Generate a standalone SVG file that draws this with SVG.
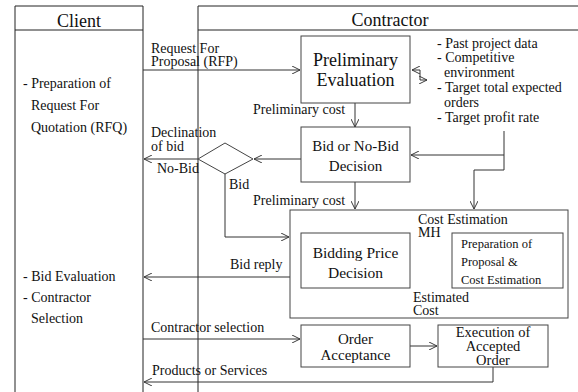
<svg xmlns="http://www.w3.org/2000/svg" width="578" height="392" viewBox="0 0 578 392">
<defs>
<marker id="ah" viewBox="0 0 10 10" refX="10" refY="5" markerWidth="8" markerHeight="8" markerUnits="userSpaceOnUse" orient="auto">
<path d="M0,0 L10,5 L0,10" fill="none" stroke="#333" stroke-width="1.2"/>
</marker>
<style>
.box{fill:#fff;stroke:#444;stroke-width:1}
.lane{fill:none;stroke:#222;stroke-width:1}
.c{fill:none;stroke:#333;stroke-width:1;marker-end:url(#ah)}
</style>
</defs>
<rect width="578" height="392" fill="#fff"/>
<g id="lanes" fill="#111">
<path class="lane" d="M15,392 V6 H143 V392 M15,30 H143"/>
<path class="lane" d="M198,392 V6 H578 M198,30 H578"/>
<text font-family="Liberation Serif" font-size="18" x="79" y="27" text-anchor="middle">Client</text>
<text font-family="Liberation Serif" font-size="18" x="390" y="26" text-anchor="middle">Contractor</text>
</g>
<g id="client-notes" fill="#111">
<text font-family="Liberation Serif" font-size="14" x="23" y="88">- Preparation of</text>
<text font-family="Liberation Serif" font-size="14" x="31" y="110">Request For</text>
<text font-family="Liberation Serif" font-size="14" x="31" y="132">Quotation (RFQ)</text>
<text font-family="Liberation Serif" font-size="14" x="23" y="281">- Bid Evaluation</text>
<text font-family="Liberation Serif" font-size="14" x="23" y="302">- Contractor</text>
<text font-family="Liberation Serif" font-size="14" x="31" y="323">Selection</text>
</g>
<g id="connectors">
<path class="c" d="M143,70 H300"/>
<path class="c" d="M420,70 H412"/>
<path class="c" d="M420,70 V80 H427"/>
<path class="c" d="M355,103 V127"/>
<path class="c" d="M504,131 V155 H411"/>
<path class="c" d="M504,155 V170 H474 V209"/>
<path class="c" d="M301,159 H254"/>
<path class="c" d="M198,159 H144"/>
<path class="c" d="M225,173 V237 H289"/>
<path class="c" d="M355,182 V209"/>
<path class="c" d="M410,251 H451"/>
<path class="c" d="M452,269 H411"/>
<path class="c" d="M290,277 H144"/>
<path class="c" d="M143,339 H300"/>
<path class="c" d="M410,346 H437"/>
<path class="c" d="M493,367 V382 H144"/>
</g>
<g id="labels" fill="#111">
<text font-family="Liberation Serif" font-size="14" x="151" y="52.5">Request For</text>
<text font-family="Liberation Serif" font-size="14" x="151" y="66">Proposal  (RFP)</text>
<text font-family="Liberation Serif" font-size="14" x="253" y="114">Preliminary cost</text>
<text font-family="Liberation Serif" font-size="14" x="151" y="137">Declination</text>
<text font-family="Liberation Serif" font-size="14" x="151" y="151">of bid</text>
<text font-family="Liberation Serif" font-size="14" x="157" y="173">No-Bid</text>
<text font-family="Liberation Serif" font-size="14" x="229" y="189">Bid</text>
<text font-family="Liberation Serif" font-size="14" x="253" y="205">Preliminary cost</text>
<text font-family="Liberation Serif" font-size="14" x="230" y="269">Bid reply</text>
<text font-family="Liberation Serif" font-size="14" x="151" y="332">Contractor selection</text>
<text font-family="Liberation Serif" font-size="14" x="152" y="375">Products or Services</text>
</g>
<g id="factors" fill="#111">
<text font-family="Liberation Serif" font-size="14" x="437" y="48">- Past project data</text>
<text font-family="Liberation Serif" font-size="14" x="437" y="62">- Competitive</text>
<text font-family="Liberation Serif" font-size="14" x="444" y="77">environment</text>
<text font-family="Liberation Serif" font-size="14" x="437" y="92">- Target total expected</text>
<text font-family="Liberation Serif" font-size="14" x="444" y="107">orders</text>
<text font-family="Liberation Serif" font-size="14" x="437" y="122">- Target profit rate</text>
</g>
<g id="preliminary-evaluation" fill="#111">
<rect class="box" x="301" y="36" width="109" height="67"/>
<text font-family="Liberation Serif" font-size="18" x="355.5" y="66" text-anchor="middle">Preliminary</text>
<text font-family="Liberation Serif" font-size="18" x="355.5" y="86" text-anchor="middle">Evaluation</text>
</g>
<g id="bid-decision" fill="#111">
<rect class="box" x="301" y="127" width="109" height="55"/>
<text font-family="Liberation Serif" font-size="15" x="355.5" y="151" text-anchor="middle">Bid or No-Bid</text>
<text font-family="Liberation Serif" font-size="15" x="355.5" y="171" text-anchor="middle">Decision</text>
</g>
<g id="decision-diamond">
<path class="box" d="M198,159 L225,143 L253,159 L225,174 Z"/>
</g>
<g id="cost-estimation" fill="#111">
<rect class="box" x="290" y="210" width="278" height="108"/>
<text font-family="Liberation Serif" font-size="14" x="418" y="223.5">Cost Estimation</text>
<text font-family="Liberation Serif" font-size="14" x="418" y="237">MH</text>
<text font-family="Liberation Serif" font-size="14" x="413" y="301.5">Estimated</text>
<text font-family="Liberation Serif" font-size="14" x="413" y="315">Cost</text>
</g>
<g id="bidding-price" fill="#111">
<rect class="box" x="301" y="233" width="109" height="55"/>
<text font-family="Liberation Serif" font-size="15.5" x="355.5" y="258" text-anchor="middle">Bidding Price</text>
<text font-family="Liberation Serif" font-size="15.5" x="355.5" y="278" text-anchor="middle">Decision</text>
</g>
<g id="proposal-preparation" fill="#111">
<rect class="box" x="452" y="233" width="111" height="55"/>
<text font-family="Liberation Serif" font-size="12.5" x="461" y="248">Preparation of</text>
<text font-family="Liberation Serif" font-size="12.5" x="461" y="266">Proposal &amp;</text>
<text font-family="Liberation Serif" font-size="12.5" x="461" y="284">Cost  Estimation</text>
</g>
<g id="order-acceptance" fill="#111">
<rect class="box" x="301" y="325" width="109" height="42"/>
<text font-family="Liberation Serif" font-size="15" x="355.5" y="344" text-anchor="middle">Order</text>
<text font-family="Liberation Serif" font-size="15" x="355.5" y="360" text-anchor="middle">Acceptance</text>
</g>
<g id="execution" fill="#111">
<rect class="box" x="438" y="325" width="110" height="42"/>
<text font-family="Liberation Serif" font-size="14.5" x="493" y="337" text-anchor="middle">Execution of</text>
<text font-family="Liberation Serif" font-size="14.5" x="493" y="351" text-anchor="middle">Accepted</text>
<text font-family="Liberation Serif" font-size="14.5" x="493" y="365" text-anchor="middle">Order</text>
</g>
</svg>
